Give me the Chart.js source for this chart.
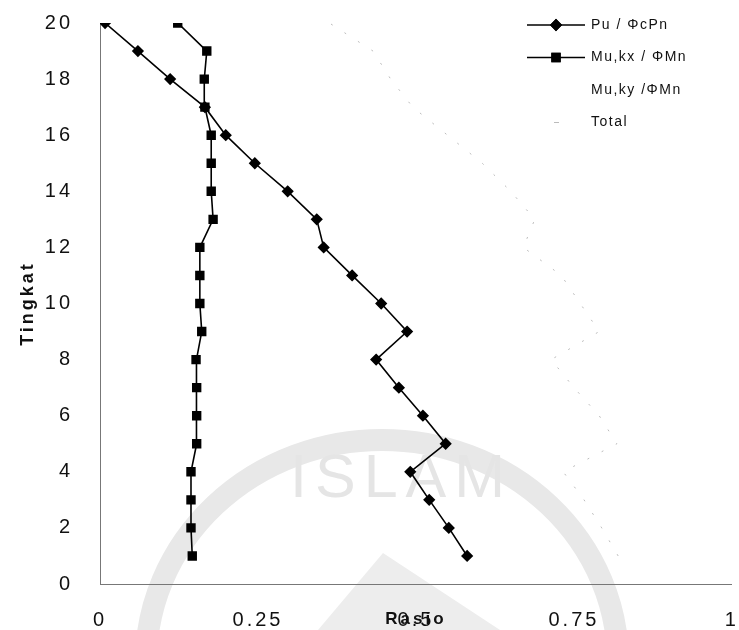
<!DOCTYPE html>
<html>
<head>
<meta charset="utf-8">
<script src="https://cdn.jsdelivr.net/npm/chart.js@4.4.1/dist/chart.umd.min.js"></script>
<style>
  html, body { margin: 0; padding: 0; background: #fff; }
  .chart-wrap { width: 739px; height: 630px; }
</style>
</head>
<body>
<div class="chart-wrap"><canvas class="js-rasio" width="739" height="630"></canvas></div>
<script>
const levels = [1, 2, 3, 4, 5, 6, 7, 8, 9, 10, 11, 12, 13, 14, 15, 16, 17, 18, 19, 20];
const puRatio = [0.581, 0.552, 0.521, 0.491, 0.547, 0.511, 0.473, 0.437, 0.486, 0.445, 0.399, 0.354, 0.343, 0.297, 0.245, 0.199, 0.166, 0.111, 0.06, 0.008];
const mukxRatio = [0.146, 0.144, 0.144, 0.144, 0.153, 0.153, 0.153, 0.152, 0.161, 0.158, 0.158, 0.158, 0.179, 0.176, 0.176, 0.176, 0.166, 0.165, 0.169, 0.123];
const mukyRatio = []; // not visible in the picture
const totalRatio = [0.82, 0.794, 0.766, 0.733, 0.818, 0.79, 0.75, 0.714, 0.79, 0.76, 0.73, 0.67, 0.688, 0.65, 0.605, 0.55, 0.495, 0.46, 0.432, 0.363];
const seriesNames = ["Pu / ΦcPn", "Mu,kx / ΦMn", "Mu,ky /ΦMn", "Total"];
const xTicks = [0, 0.25, 0.5, 0.75, 1];
const yTicks = [0, 2, 4, 6, 8, 10, 12, 14, 16, 18, 20];

const fontFamily = 'Arial, "Liberation Sans", sans-serif';

const toPoints = (values) => values.map((v, i) => ({ x: v, y: levels[i] }));

// the scanned text is widely spaced
const spacing = {
  id: "spacing",
  beforeUpdate: (chart) => { chart.ctx.letterSpacing = "3px"; },
  beforeDraw: (chart) => { chart.ctx.letterSpacing = "3px"; },
};

// faint watermark of the scanned page
const watermark = {
  id: "watermark",
  beforeDraw: (chart) => {
    const ctx = chart.ctx;
    ctx.save();
    ctx.strokeStyle = "#e8e8e8";
    ctx.lineWidth = 22;
    ctx.beginPath();
    ctx.ellipse(382, 662, 236, 222, 0, Math.PI, 2 * Math.PI);
    ctx.stroke();
    ctx.fillStyle = "#ededed";
    ctx.beginPath();
    ctx.moveTo(318, 630);
    ctx.lineTo(383, 553);
    ctx.lineTo(500, 630);
    ctx.closePath();
    ctx.fill();
    ctx.fillStyle = "#e5e5e5";
    ctx.letterSpacing = "8px";
    ctx.font = "61px " + fontFamily;
    ctx.textBaseline = "alphabetic";
    ctx.fillText("ISLAM", 290, 497);
    ctx.restore();
  },
};

const sideLegend = {
  id: "sideLegend",
  afterDraw: (chart) => {
    const ctx = chart.ctx;
    ctx.save();
    ctx.letterSpacing = "1.5px";
    ctx.font = "14px " + fontFamily;
    ctx.textBaseline = "middle";
    chart.data.datasets.forEach((ds, i) => {
      const y = 25 + i * 32.5;
      ctx.strokeStyle = ds.borderColor;
      ctx.lineWidth = ds.borderWidth;
      ctx.beginPath();
      if (ds.borderDash) {
        // only one faint dash shows in the scan
        ctx.moveTo(554, y);
        ctx.lineTo(559, y);
      } else {
        ctx.moveTo(527, y);
        ctx.lineTo(585, y);
      }
      ctx.stroke();
      if (ds.pointRadius > 0) {
        ctx.fillStyle = ds.backgroundColor;
        Chart.helpers.drawPoint(ctx, { pointStyle: ds.pointStyle, radius: ds.pointRadius, borderWidth: 1, rotation: 0 }, 556, y);
        ctx.fill();
        ctx.stroke();
      }
      ctx.fillStyle = "#111";
      ctx.fillText(ds.label, 591, y);
    });
    ctx.restore();
  },
};

const chartRasio = function () {
  const canvas = document.querySelector(".js-rasio");

  new Chart(canvas, {
    type: "scatter",
    data: {
      datasets: [
        {
          label: seriesNames[0],
          data: toPoints(puRatio),
          showLine: true,
          borderColor: "#000",
          backgroundColor: "#000",
          borderWidth: 1.6,
          pointStyle: "rectRot",
          pointRadius: 5,
          order: 1,
        },
        {
          label: seriesNames[1],
          data: toPoints(mukxRatio),
          showLine: true,
          borderColor: "#000",
          backgroundColor: "#000",
          borderWidth: 1.6,
          pointStyle: "rect",
          pointRadius: 5.5,
          order: 2,
        },
        {
          label: seriesNames[2],
          data: toPoints(mukyRatio),
          showLine: true,
          borderColor: "rgba(0,0,0,0)",
          backgroundColor: "rgba(0,0,0,0)",
          borderWidth: 1,
          pointRadius: 0,
          order: 3,
        },
        {
          label: seriesNames[3],
          data: toPoints(totalRatio),
          showLine: true,
          borderColor: "#bbbbbb",
          backgroundColor: "#bbbbbb",
          borderWidth: 1,
          borderDash: [2, 14],
          pointRadius: 0,
          order: 4,
        },
      ],
    },
    options: {
      responsive: false,
      animation: false,
      layout: { padding: { top: 23, right: 7, bottom: 0, left: 0 } },
      plugins: {
        legend: { display: false },
        tooltip: { enabled: false },
      },
      scales: {
        x: {
          type: "linear",
          min: 0,
          max: 1,
          afterFit: (scale) => {
            scale.height = 46;
            scale.paddingLeft = 0;
            scale.paddingRight = 0;
          },
          afterBuildTicks: (scale) => { scale.ticks = xTicks.map((v) => ({ value: v })); },
          grid: { display: false, drawTicks: false },
          border: { display: true, color: "#777", width: 1, dash: [2, 2] },
          ticks: {
            color: "#111",
            padding: 24,
            maxRotation: 0,
            autoSkip: false,
            font: { size: 20, family: fontFamily },
            callback: (value) => String(value),
          },
          title: {
            display: true,
            text: "Rasio",
            color: "#111",
            padding: { top: 0, bottom: 0 },
            font: { size: 17, weight: "bold", family: fontFamily },
          },
        },
        y: {
          type: "linear",
          min: 0,
          max: 20,
          afterFit: (scale) => {
            scale.width = 100;
            scale.paddingTop = 0;
            scale.paddingBottom = 0;
          },
          afterBuildTicks: (scale) => { scale.ticks = yTicks.map((v) => ({ value: v })); },
          grid: { display: false, drawTicks: false },
          border: { display: true, color: "#777", width: 1, dash: [2, 2] },
          ticks: {
            color: "#111",
            padding: 27,
            autoSkip: false,
            font: { size: 20, family: fontFamily },
            callback: (value) => String(value),
          },
          title: {
            display: true,
            text: "Tingkat",
            color: "#111",
            padding: { top: 17, bottom: 0 },
            font: { size: 18, weight: "bold", family: fontFamily },
          },
        },
      },
    },
    plugins: [spacing, watermark, sideLegend],
  });
};

const init = function () {
  if (document.querySelector(".js-rasio")) {
    chartRasio();
  }
};

document.addEventListener("DOMContentLoaded", init);
</script>
</body>
</html>
